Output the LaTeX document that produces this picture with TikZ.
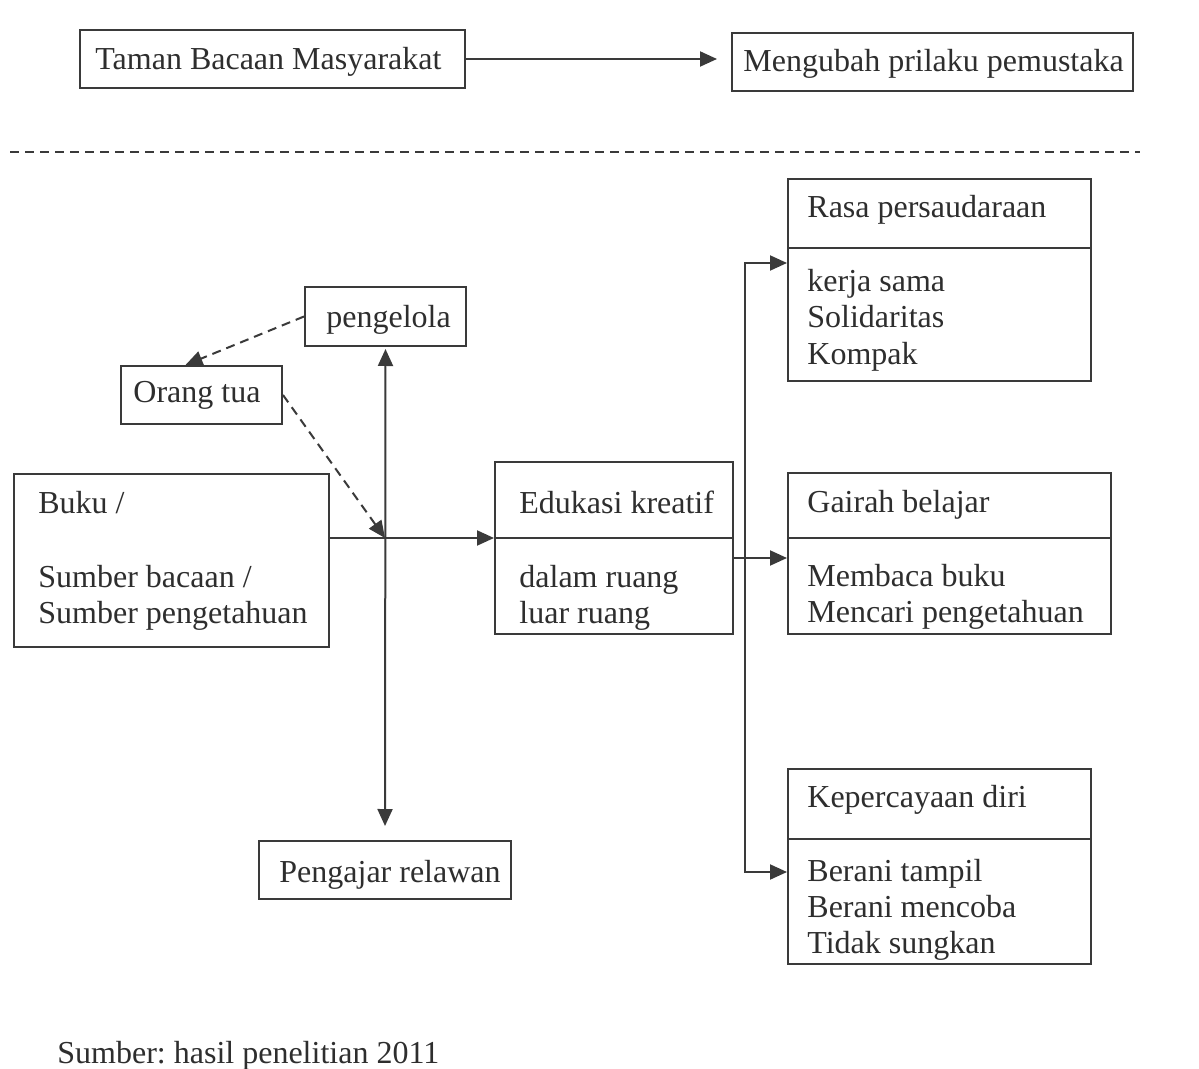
\documentclass[tikz,border=0pt]{standalone}
\usepackage{fontspec}
\setmainfont{Liberation Serif}
\usetikzlibrary{arrows.meta,fit}
\definecolor{ink}{HTML}{2E2E2E}
\definecolor{lin}{HTML}{3A3A3A}
\frenchspacing
\begin{document}
\begin{tikzpicture}[x=0.5pt,y=-0.5pt,
  box/.style={draw=lin,line width=1pt,inner sep=0pt},
  txt/.style={anchor=base west,inner sep=0pt,text=ink,font=\fontsize{16pt}{18pt}\selectfont},
  ln/.style={draw=lin,line width=1pt},
  tip/.tip={Triangle[length=8.5pt,width=7.5pt]},
  arr/.style={ln,-tip},
  darr/.style={arr,dash pattern=on 4.5pt off 3pt},
  sep/.style={draw=lin,line width=0.8pt,dash pattern=on 4.5pt off 3pt}]
\fill[white] (0,0) rectangle (1199,1069);
\useasboundingbox (0,0) rectangle (1199,1069);

% top row
\node[box,fit={(80,30)(465,88)}] (tbm) {};
\node[txt] (tbmt) at (95,70) {Taman Bacaan Masyarakat};
\node[box,fit={(732,33)(1133,91)}] (mengubah) {};
\node[txt] (mengubaht) at (743,72) {Mengubah prilaku pemustaka};
\draw[arr,shorten >=7pt] (tbm.east) -- (tbm.east -| mengubah.west);

\coordinate (sepL) at (10,152);
\coordinate (sepR) at (1140,152);
\draw[sep] (sepL) -- (sepR);

% Rasa persaudaraan
\node[box,fit={(788,179)(1091,381)}] (rasa) {};
\draw[ln] (788,248) -- (1091,248);
\node[txt] (rasa0) at (807,218) {Rasa persaudaraan};
\node[txt] (rasa1) at (807,292) {kerja sama};
\node[txt] (rasa2) at (807,328) {Solidaritas};
\node[txt] (rasa3) at (807,365) {Kompak};

% pengelola, orang tua
\node[box,fit={(305,287)(466,346)}] (pengelola) {};
\node[txt] (pengelolat) at (326,328) {pengelola};
\node[box,fit={(121,366)(282,424)}] (orang) {};
\node[txt] (orangt) at (133,402) {Orang tua};

% Buku
\node[box,fit={(14,474)(329,647)}] (buku) {};
\node[txt] (buku0) at (38,513) {Buku /};
\node[txt] (buku1) at (38,587) {Sumber bacaan /};
\node[txt] (buku2) at (38,623) {Sumber pengetahuan};

% Edukasi
\node[box,fit={(495,462)(733,634)}] (edu) {};
\draw[ln] (495,538) -- (733,538);
\node[txt] (edu0) at (519,513) {Edukasi kreatif};
\node[txt] (edu1) at (519,587) {dalam ruang};
\node[txt] (edu2) at (519,623) {luar ruang};

% Gairah
\node[box,fit={(788,473)(1111,634)}] (gairah) {};
\draw[ln] (788,538) -- (1111,538);
\node[txt] (gairah0) at (807,512) {Gairah belajar};
\node[txt] (gairah1) at (807,586) {Membaca buku};
\node[txt] (gairah2) at (807,622) {Mencari pengetahuan};

% Kepercayaan
\node[box,fit={(788,769)(1091,964)}] (kep) {};
\draw[ln] (788,839) -- (1091,839);
\node[txt] (kep0) at (807,807) {Kepercayaan diri};
\node[txt] (kep1) at (807,881) {Berani tampil};
\node[txt] (kep2) at (807,917) {Berani mencoba};
\node[txt] (kep3) at (807,953) {Tidak sungkan};

% Pengajar relawan
\node[box,fit={(259,841)(511,899)}] (pengajar) {};
\node[txt] (pengajart) at (279,882) {Pengajar relawan};

% source
\node[txt] (sumber) at (57,1063) {Sumber: hasil penelitian 2011};

% connectors
\coordinate (j) at (385,538);
\draw[ln,tip-tip,shorten >=7pt,shorten <=1pt]
  (pengelola.south) -- (pengajar.north);
\draw[arr] (buku.east |- j) -- (j -| edu.west);
\draw[darr] (pengelola.west) -- ([xshift=-8pt]orang.north);
\draw[darr] (orang.east) -- (j);

\coordinate (eo) at ([yshift=-5pt]edu.east);
\draw[arr] (eo) -- (eo -| gairah.west);
\coordinate (btop) at (745,263);
\coordinate (bbot) at (745,872);
\draw[arr] (bbot) -- (btop) -- (btop -| rasa.west);
\draw[arr] (btop) -- (bbot) -- (bbot -| kep.west);
\end{tikzpicture}
\end{document}
